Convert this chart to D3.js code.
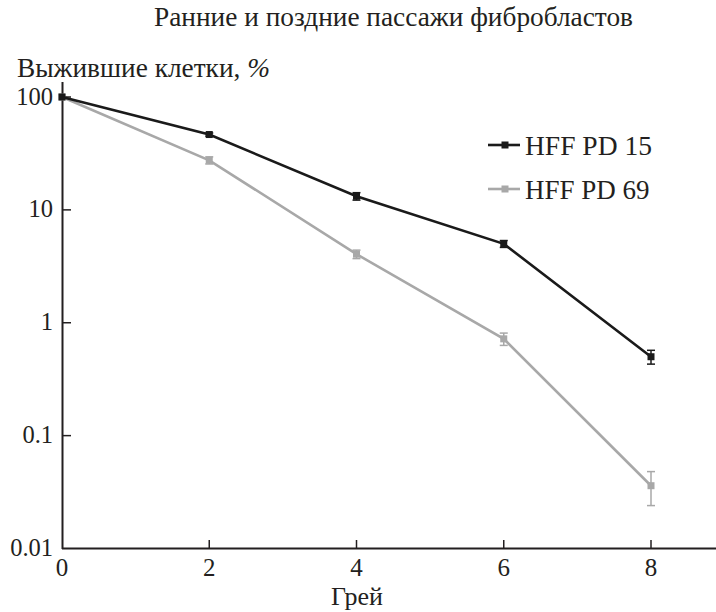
<!DOCTYPE html>
<html><head><meta charset="utf-8">
<script src="https://cdn.jsdelivr.net/npm/d3@7"></script>
<style>body{margin:0;background:#fff}svg{display:block}text{font-family:"Liberation Serif","Times New Roman",serif;fill:#231f20}</style>
</head><body>
<svg id="c" width="716" height="612"></svg>
<script>
const doses = [0, 2, 4, 6, 8];
const seriesNames = ["HFF PD 15", "HFF PD 69"];
const pd15 = [100, 46.5, 13.2, 5.0, 0.5];
const pd15Err = [0, 1.5, 1.0, 0.35, 0.07];
const pd69 = [100, 27.5, 4.05, 0.72, 0.036];
const pd69Err = [0, 2.0, 0.35, 0.09, 0.012];
const xTicks = [0, 2, 4, 6, 8];
const yTicks = [100, 10, 1, 0.1, 0.01];
const yTickLabels = ["100", "10", "1", "0.1", "0.01"];
const colors = ["#1a1a1a", "#a8a8a8"];

const svg = d3.select("#c");
const x = d3.scaleLinear().domain([0, 8]).range([62, 651]);
const y = d3.scaleLog().domain([0.01, 100]).range([548.5, 97]);

// fit a text element's font size so its width matches a target width
function fit(sel, width, maxSize) {
  const w = sel.node().getComputedTextLength();
  const cur = +sel.attr("font-size");
  sel.attr("font-size", Math.min(maxSize, cur * width / w));
  return sel;
}

// axes
svg.append("line").attr("x1", 62).attr("x2", 716).attr("y1", 548.5).attr("y2", 548.5).attr("stroke", "#231f20").attr("stroke-width", 2);
svg.append("line").attr("x1", 62.5).attr("x2", 62.5).attr("y1", 82).attr("y2", 549).attr("stroke", "#231f20").attr("stroke-width", 2);

xTicks.forEach(t => {
  if (t > 0) svg.append("line").attr("x1", x(t)).attr("x2", x(t)).attr("y1", 548).attr("y2", 540).attr("stroke", "#231f20").attr("stroke-width", 1.5);
  svg.append("text").attr("x", x(t)).attr("y", 576).attr("text-anchor", "middle").attr("font-size", 25).text(t);
});
yTicks.forEach((t, i) => {
  if (t > 0.01) svg.append("line").attr("x1", 62).attr("x2", 71).attr("y1", y(t)).attr("y2", y(t)).attr("stroke", "#231f20").attr("stroke-width", 1.5);
  svg.append("text").attr("x", 53).attr("y", y(t) + 7.5).attr("text-anchor", "end").attr("font-size", 24.5).text(yTickLabels[i]);
});

// y label: spans x 17 -> 270
const yl = svg.append("text").attr("x", 17).attr("y", 77).attr("font-size", 26);
yl.append("tspan").text("Выжившие клетки, ");
yl.append("tspan").attr("font-style", "italic").text("%");
fit(yl, 253, 30);
const fs = +yl.attr("font-size");

// title: same size, right end at 633
svg.append("text").attr("x", 633).attr("y", 26).attr("text-anchor", "end").attr("font-size", fs).text("Ранние и поздние пассажи фибробластов");
svg.append("text").attr("x", 357).attr("y", 605).attr("text-anchor", "middle").attr("font-size", 26).text("Грей");

const series = [[pd15, pd15Err], [pd69, pd69Err]];
[1, 0].forEach(si => {
  const [vals, errs] = series[si];
  const c = colors[si];
  const pts = doses.map((d, i) => ({d, v: vals[i], e: errs[i]}));
  svg.append("path").datum(pts).attr("fill", "none").attr("stroke", c).attr("stroke-width", 2.6)
    .attr("d", d3.line().x(p => x(p.d)).y(p => y(p.v)));
  pts.forEach(p => {
    if (p.e > 0) {
      const y1 = y(p.v + p.e), y2 = y(p.v - p.e);
      svg.append("line").attr("x1", x(p.d)).attr("x2", x(p.d)).attr("y1", y1).attr("y2", y2).attr("stroke", c).attr("stroke-width", 1.5);
      [y1, y2].forEach(yy => svg.append("line").attr("x1", x(p.d) - 4).attr("x2", x(p.d) + 4).attr("y1", yy).attr("y2", yy).attr("stroke", c).attr("stroke-width", 1.5));
    }
    svg.append("rect").attr("x", x(p.d) - 3.5).attr("y", y(p.v) - 3.5).attr("width", 7).attr("height", 7).attr("fill", c);
  });
});

// legend
const legY = [145, 189];
seriesNames.forEach((n, i) => {
  const ly = legY[i];
  svg.append("line").attr("x1", 488).attr("x2", 520).attr("y1", ly).attr("y2", ly).attr("stroke", colors[i]).attr("stroke-width", 2.6);
  svg.append("rect").attr("x", 501.5).attr("y", ly - 3.5).attr("width", 7).attr("height", 7).attr("fill", colors[i]);
  const t = svg.append("text").attr("x", 525).attr("y", ly + 10).attr("font-size", 27).text(n);
  if (i === 0) fit(t, 127, 30);
  else t.attr("font-size", svg.select("text:last-of-type").attr("font-size"));
});
</script>
</body></html>
